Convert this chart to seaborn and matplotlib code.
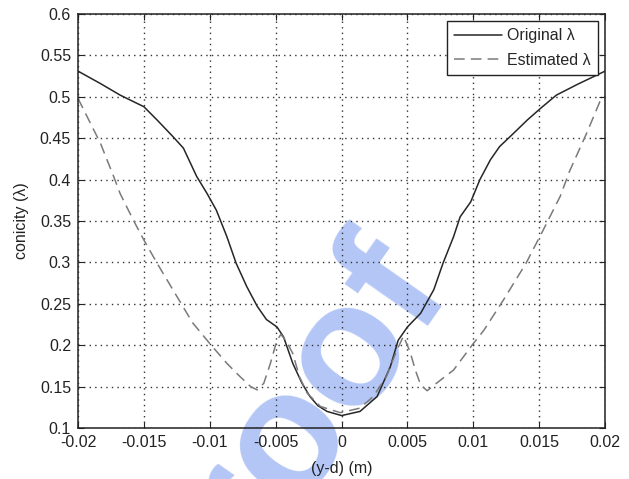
import matplotlib
matplotlib.use("Agg")
import matplotlib.pyplot as plt
import seaborn as sns
import pandas as pd

# ---- data ----
x_orig = [-0.0200, -0.0183, -0.0168, -0.0150, -0.0140, -0.0128, -0.0120, -0.0110,
          -0.0102, -0.0095, -0.0087, -0.0080, -0.0072, -0.0064, -0.0057, -0.0049,
          -0.0044, -0.0037, -0.0030, -0.0024, -0.0018, -0.0011, 0.0000, 0.0014,
          0.0027, 0.0037, 0.0043, 0.0050, 0.0060, 0.0070, 0.0077, 0.0085,
          0.0090, 0.0098, 0.0105, 0.0113, 0.0120, 0.0128, 0.0141, 0.0151,
          0.0163, 0.0179, 0.0200]
y_orig = [0.531, 0.516, 0.502, 0.488, 0.472, 0.452, 0.438, 0.404,
          0.383, 0.363, 0.331, 0.299, 0.271, 0.247, 0.231, 0.222,
          0.210, 0.178, 0.154, 0.138, 0.127, 0.120, 0.115, 0.120,
          0.138, 0.174, 0.206, 0.222, 0.2385, 0.267, 0.299, 0.331,
          0.355, 0.373, 0.400, 0.424, 0.440, 0.452, 0.472, 0.486,
          0.502, 0.515, 0.531]

x_est = [-0.0200, -0.0183, -0.0173, -0.0168, -0.0158, -0.0150, -0.0140, -0.0125,
         -0.0113, -0.0100, -0.0087, -0.0077, -0.0069, -0.0064, -0.0059, -0.0054,
         -0.0049, -0.0046, -0.0042, -0.0037, -0.0032, -0.0026, -0.0016, -0.0001,
         0.0014, 0.0024, 0.0034, 0.0042, 0.0047, 0.0052, 0.0056, 0.0060,
         0.0065, 0.0072, 0.0085, 0.0100, 0.0108, 0.0123, 0.0140, 0.0153,
         0.0166, 0.0173, 0.0186, 0.0196, 0.0200]
y_est = [0.498, 0.444, 0.404, 0.383, 0.351, 0.327, 0.299, 0.259,
         0.227, 0.202, 0.178, 0.162, 0.150, 0.146, 0.154, 0.178,
         0.206, 0.213, 0.205, 0.190, 0.162, 0.142, 0.126, 0.1185,
         0.124, 0.138, 0.162, 0.194, 0.211, 0.192, 0.170, 0.152,
         0.145, 0.154, 0.170, 0.202, 0.218, 0.255, 0.299, 0.339,
         0.380, 0.410, 0.456, 0.494, 0.501]

series_names = ["Original \u03bb", "Estimated \u03bb"]
x_ticks = [-0.02, -0.015, -0.01, -0.005, 0, 0.005, 0.01, 0.015, 0.02]
x_ticklabels = ["-0.02", "-0.015", "-0.01", "-0.005", "0", "0.005", "0.01", "0.015", "0.02"]
y_ticks = [0.1, 0.15, 0.2, 0.25, 0.3, 0.35, 0.4, 0.45, 0.5, 0.55, 0.6]
y_ticklabels = ["0.1", "0.15", "0.2", "0.25", "0.3", "0.35", "0.4", "0.45", "0.5", "0.55", "0.6"]

sns.set_style("ticks")
plt.rcParams["font.family"] = ["Liberation Sans", "DejaVu Sans"]

fig = plt.figure(figsize=(6.29, 4.79), dpi=100)
fig.patch.set_facecolor("white")
ax = fig.add_axes([0.124, 0.1065, 0.838, 0.8643])
ax.patch.set_visible(False)

df_o = pd.DataFrame({"x": x_orig, "y": y_orig})
df_e = pd.DataFrame({"x": x_est, "y": y_est})

sns.lineplot(data=df_o, x="x", y="y", ax=ax, color="#262626", linewidth=1.1,
             estimator=None, label=series_names[0])
sns.lineplot(data=df_e, x="x", y="y", ax=ax, color="#7a7a7a", linewidth=1.1,
             estimator=None, label=series_names[1], dashes=False)
ax.lines[1].set_dashes([7, 4])

ax.set_xlim(-0.02, 0.02)
ax.set_ylim(0.1, 0.6)
ax.set_xticks(x_ticks)
ax.set_xticklabels(x_ticklabels)
ax.set_yticks(y_ticks)
ax.set_yticklabels(y_ticklabels)
ax.tick_params(direction="in", top=True, right=True, length=4, width=0.8,
               labelsize=11.5, colors="#222222", pad=5)
ax.grid(True, linestyle=(0, (1, 3)), color="#333333", linewidth=1.0)
for s in ax.spines.values():
    s.set_visible(True)
    s.set_linewidth(1.1)
    s.set_color("#222222")

ax.set_xlabel("(y-d) (m)", fontsize=11.5, color="#222222", labelpad=8)
ax.set_ylabel("conicity (\u03bb)", fontsize=11.5, color="#222222", labelpad=8)

leg = ax.legend(loc="upper right", fontsize=11.5, frameon=True, fancybox=False,
                handlelength=3.0, handletextpad=0.3, labelspacing=0.58,
                borderpad=0.45, borderaxespad=0.45)
leg.get_frame().set_edgecolor("#222222")
leg.get_frame().set_linewidth(1.0)
leg.get_frame().set_alpha(1)

# watermark (behind the plot content)
fig.text(448 / 629, 1 - 281 / 479, "Proof", rotation=55, rotation_mode="anchor",
         ha="right", va="baseline", fontsize=126, fontweight="bold",
         color="#b3c6f6", zorder=-1)

fig.savefig("out.png", dpi=100, facecolor="white")
